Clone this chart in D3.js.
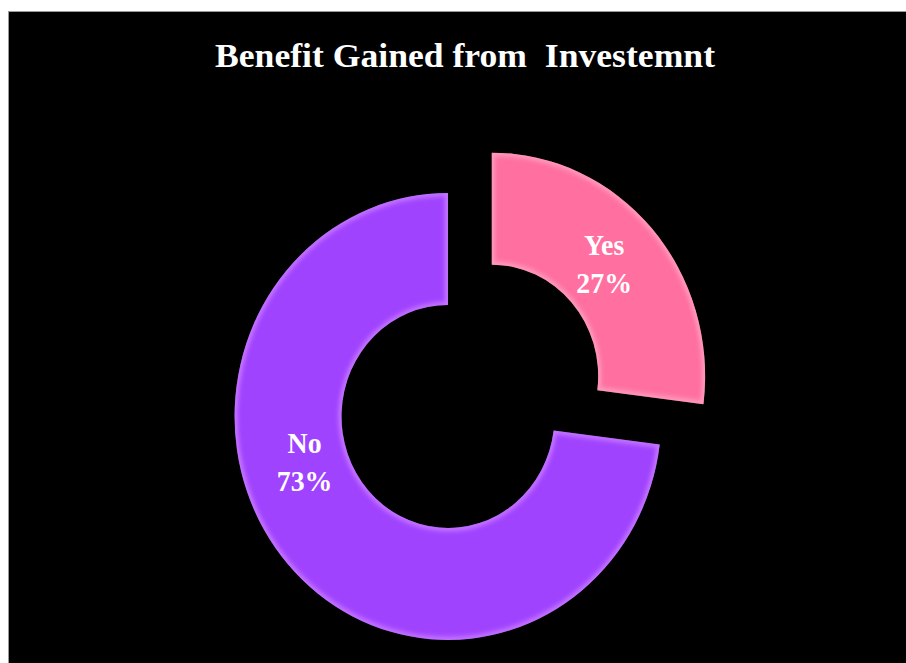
<!DOCTYPE html>
<html>
<head>
<meta charset="utf-8">
<script src="https://cdn.jsdelivr.net/npm/d3@7/dist/d3.min.js"></script>
<style>
  html, body { margin: 0; padding: 0; background: #fff; }
  svg { display: block; }
</style>
</head>
<body>
<div id="chart"></div>
<script>
/* Data */
var categories = ["Yes", "No"],
    values = [27, 73],
    colors = ["#FF6F9F", "#A043FF"],
    highlights = ["#FFB3CE", "#DA92FF"],
    title = "Benefit Gained from  Investemnt";

/* Settings */
var width = 906,
    height = 663,
    cx = 448,
    cy = 416.5,
    outerR = 223.5,
    innerR = 111.5,
    squeeze = 0.955,   /* picture is a bit narrower than tall */
    explode = 61;      /* how far the "Yes" slice is pulled out */

var svg = d3.select("#chart").append("svg")
    .attr("width", width)
    .attr("height", height)
    .attr("viewBox", "0 0 " + width + " " + height);

/* Chart area */
svg.append("rect")
  .attr("x", 8.5)
  .attr("y", 11.5)
  .attr("width", width)
  .attr("height", height)
  .attr("fill", "#000")
  .attr("stroke", "#9a9a9a")
  .attr("stroke-width", 1);

svg.append("text")
  .attr("x", 465)
  .attr("y", 67)
  .attr("text-anchor", "middle")
  .attr("font-family", "'Liberation Serif', 'Times New Roman', serif")
  .attr("font-weight", "bold")
  .attr("font-size", 33)
  .attr("fill", "#fff")
  .style("white-space", "pre")
  .attr("textLength", 500)
  .attr("lengthAdjust", "spacingAndGlyphs")
  .text(title);

var defs = svg.append("defs");
defs.append("filter")
  .attr("id", "soft")
  .attr("x", "-20%").attr("y", "-20%")
  .attr("width", "140%").attr("height", "140%")
  .append("feGaussianBlur")
  .attr("stdDeviation", 2.5);

var total = d3.sum(values);
var pie = d3.pie().sort(null).value(function(d) { return d; });
var arcs = pie(values);

var arc = d3.arc().innerRadius(innerR).outerRadius(outerR);

var g = svg.append("g")
  .attr("transform", "translate(" + cx + "," + cy + ") scale(" + squeeze + ",1)");

var slices = g.selectAll("g.slice")
  .data(arcs)
  .join("g")
  .attr("class", "slice")
  .attr("transform", function(d, i) {
    if (i !== 0) return null;
    var a = (d.startAngle + d.endAngle) / 2;
    return "translate(" + (explode * Math.sin(a)) + "," + (-explode * Math.cos(a)) + ")";
  });

slices.each(function(d, i) {
  var s = d3.select(this);
  var id = "clip" + i;
  defs.append("clipPath").attr("id", id)
    .append("path").attr("d", arc(d));
  s.append("path")
    .attr("d", arc(d))
    .attr("fill", colors[i]);
  s.append("path")
    .attr("d", arc(d))
    .attr("fill", "none")
    .attr("stroke", highlights[i])
    .attr("stroke-width", 6)
    .attr("stroke-opacity", 0.7)
    .attr("clip-path", "url(#" + id + ")")
    .attr("filter", "url(#soft)");
});

/* Data labels (Excel puts the "No" label nearer the left side) */
var labelAngle = [null, 253 * Math.PI / 180],
    labelR = 157;

slices.each(function(d, i) {
  var a = labelAngle[i] !== null ? labelAngle[i] : (d.startAngle + d.endAngle) / 2;
  var lx = labelR * Math.sin(a),
      ly = -labelR * Math.cos(a) + (i === 0 ? -8 : 0);
  var t = d3.select(this).append("text")
    .attr("transform", "translate(" + lx + "," + ly + ") scale(" + (1 / squeeze * 0.96) + ",1)")
    .attr("text-anchor", "middle")
    .attr("font-family", "'Liberation Serif', 'Times New Roman', serif")
    .attr("font-weight", "bold")
    .attr("font-size", 29)
    .attr("fill", "#fff");
  t.append("tspan").attr("x", 0).attr("y", -9).text(categories[i]);
  t.append("tspan").attr("x", 0).attr("y", 29)
    .text(Math.round(values[i] / total * 100) + "%");
});
</script>
</body>
</html>
